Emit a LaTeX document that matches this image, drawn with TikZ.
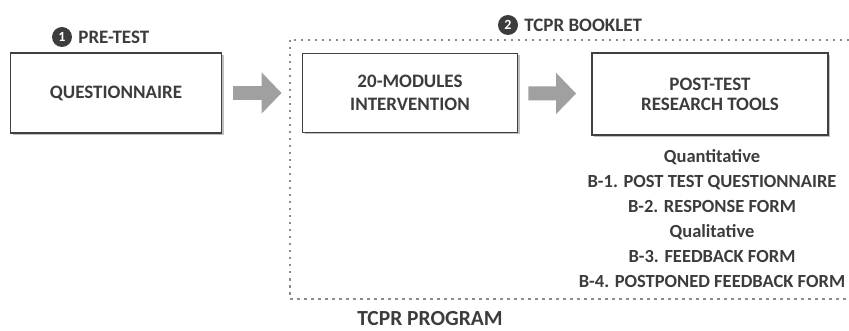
\documentclass[tikz,border=0pt]{standalone}
\usepackage{fontspec}
\setmainfont{Carlito}
\usepackage{tikz}
\usetikzlibrary{positioning,arrows.meta,shadows}
\definecolor{CTEXT}{HTML}{3C3C3C}
\definecolor{CBORDER}{HTML}{404040}
\definecolor{CARROW}{HTML}{A0A0A0}
\definecolor{CDOTS}{HTML}{8C8C8C}

\begin{document}
\begin{tikzpicture}[inner sep=0pt,
  stagebox/.style={draw=CBORDER, line width=1.8pt, fill=white, align=center, text=CTEXT,
    font=\bfseries\fontsize{19}{23}\selectfont,
    drop shadow={shadow xshift=2pt, shadow yshift=-2pt, fill=black!50}},
  badge/.style={circle, fill=CTEXT, text=white, minimum size=20pt, font=\bfseries\fontsize{14}{14}\selectfont},
  badgelabel/.style={text=CTEXT, font=\bfseries\fontsize{19}{21}\selectfont},
  blockarrow/.style={draw=CARROW, line width=14pt, -{Triangle[width=40pt,length=20pt]}},
  tooltext/.style={text=CTEXT, align=center, font=\bfseries\fontsize{18.5}{25}\selectfont}]
\useasboundingbox (0pt,0pt) rectangle (849pt,-331pt);
% TCPR booklet frame
\draw [CDOTS, dash pattern=on 2.5pt off 4.5pt, line width=2pt] (290pt,-40pt) rectangle (860pt,-299pt);
\node (n3) [at={(430pt,-325pt)}, anchor=base, badgelabel, font=\bfseries\fontsize{21.5}{23}\selectfont] {TCPR PROGRAM};
% stages
\node (n0) [stagebox, minimum width=211pt, minimum height=80pt, at={(116pt,-93pt)}] {QUESTIONNAIRE};
\node (n1) [stagebox, minimum width=215pt, minimum height=79pt, at={(410pt,-93pt)}] {20-MODULES\\INTERVENTION};
\node (n2) [stagebox, minimum width=236pt, minimum height=82pt, at={(710pt,-94pt)}, font=\bfseries\fontsize{19}{20}\selectfont] {POST-TEST\\RESEARCH TOOLS};
% badges
\node (b0) [badge, at={(62pt,-37pt)}] {1};
\node (l0) [badgelabel, right=6pt of b0] {PRE-TEST};
\node (b1) [badge, at={(508pt,-25pt)}] {2};
\node (l1) [badgelabel, right=6pt of b1] {TCPR BOOKLET};
% tools list
\node (n4) [tooltext, at={(712pt,-219pt)}] {Quantitative\\B-1. POST TEST QUESTIONNAIRE\\B-2. RESPONSE FORM\\Qualitative\\B-3. FEEDBACK FORM\\B-4. POSTPONED FEEDBACK FORM};
% arrows
\draw [blockarrow, shorten <=11pt, shorten >=20pt] (n0) -- (n1);
\draw [blockarrow, shorten <=10pt, shorten >=15pt] (n1) -- (n2);
\end{tikzpicture}
\end{document}
